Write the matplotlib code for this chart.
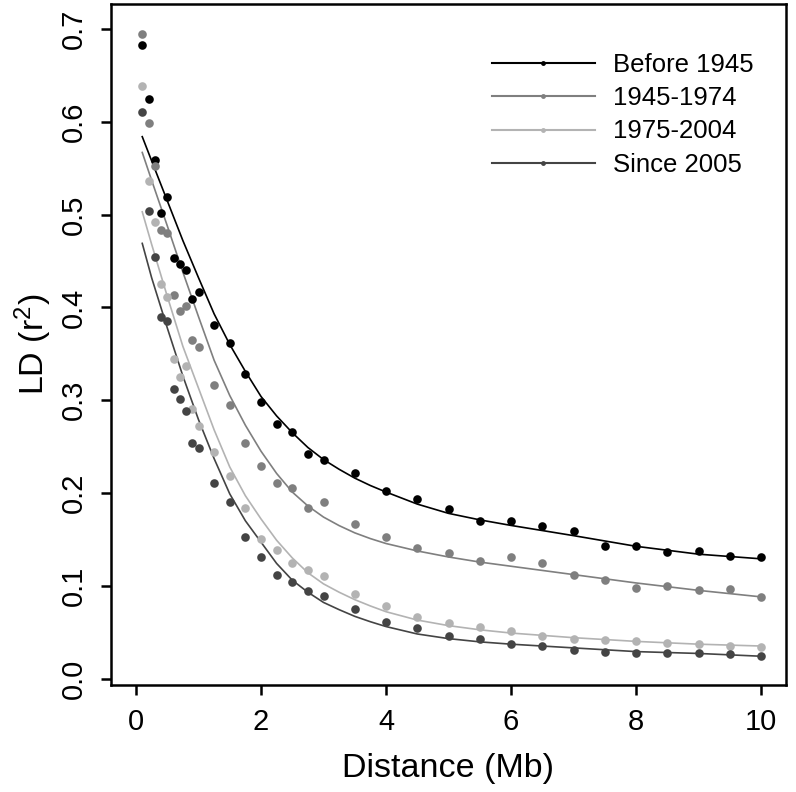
import matplotlib
matplotlib.use("Agg")
import matplotlib.pyplot as plt
from matplotlib.lines import Line2D

plt.rcParams['font.family'] = ['Liberation Sans', 'DejaVu Sans']
plt.rcParams['mathtext.default'] = 'regular'

# ---- data ----
groups = ["Before 1945", "1945-1974", "1975-2004", "Since 2005"]
colors = ["#000000", "#7f7f7f", "#b3b3b3", "#444444"]

distance = [0.1, 0.2, 0.3, 0.4, 0.5, 0.6, 0.7, 0.8, 0.9, 1.0,
            1.25, 1.5, 1.75, 2.0, 2.25, 2.5, 2.75, 3.0,
            3.5, 4.0, 4.5, 5.0, 5.5, 6.0, 6.5, 7.0, 7.5, 8.0, 8.5, 9.0, 9.5, 10.0]

ld_before1945 = [0.683, 0.625, 0.559, 0.502, 0.519, 0.453, 0.447, 0.440, 0.409, 0.417,
                 0.381, 0.362, 0.328, 0.298, 0.274, 0.266, 0.242, 0.236,
                 0.222, 0.202, 0.194, 0.183, 0.170, 0.170, 0.164, 0.159, 0.143, 0.143,
                 0.136, 0.137, 0.132, 0.131]
ld_1945_1974 = [0.695, 0.599, 0.552, 0.483, 0.480, 0.413, 0.396, 0.402, 0.365, 0.357,
                0.316, 0.295, 0.254, 0.229, 0.211, 0.205, 0.184, 0.190,
                0.167, 0.153, 0.141, 0.135, 0.127, 0.131, 0.124, 0.112, 0.106, 0.098,
                0.100, 0.095, 0.096, 0.088]
ld_1975_2004 = [0.639, 0.536, 0.492, 0.425, 0.411, 0.344, 0.325, 0.337, 0.291, 0.272,
                0.244, 0.218, 0.184, 0.150, 0.139, 0.125, 0.117, 0.111,
                0.091, 0.078, 0.066, 0.060, 0.055, 0.051, 0.046, 0.043, 0.041, 0.040,
                0.038, 0.037, 0.035, 0.034]
ld_since2005 = [0.611, 0.504, 0.454, 0.390, 0.385, 0.312, 0.301, 0.288, 0.254, 0.248,
                0.211, 0.190, 0.152, 0.131, 0.112, 0.104, 0.094, 0.089,
                0.075, 0.061, 0.054, 0.046, 0.043, 0.037, 0.035, 0.031, 0.029, 0.028,
                0.027, 0.028, 0.026, 0.024]

# fitted decay curves
fit_x = [0.1, 0.25, 0.5, 0.75, 1.0, 1.25, 1.5, 1.75, 2.0, 2.25, 2.5, 2.75, 3.0,
         3.25, 3.5, 3.75, 4.0, 4.5, 5.0, 5.5, 6.0, 7.0, 8.0, 9.0, 10.0]
fit_before1945 = [0.584, 0.558, 0.515, 0.472, 0.432, 0.393, 0.360, 0.331, 0.304, 0.283,
                  0.265, 0.249, 0.236, 0.2255, 0.216, 0.208, 0.201, 0.188, 0.178,
                  0.171, 0.165, 0.154, 0.1425, 0.134, 0.129]
fit_1945_1974 = [0.567, 0.537, 0.488, 0.438, 0.390, 0.343, 0.305, 0.273, 0.245, 0.221,
                 0.201, 0.186, 0.174, 0.1648, 0.157, 0.1508, 0.1455, 0.1375, 0.131,
                 0.1255, 0.121, 0.112, 0.103, 0.095, 0.088]
fit_1975_2004 = [0.503, 0.468, 0.412, 0.358, 0.313, 0.268, 0.228, 0.197, 0.172, 0.149,
                 0.130, 0.114, 0.102, 0.093, 0.085, 0.0782, 0.072, 0.063, 0.057,
                 0.0525, 0.049, 0.044, 0.040, 0.037, 0.035]
fit_since2005 = [0.469, 0.432, 0.378, 0.326, 0.279, 0.237, 0.199, 0.170, 0.147, 0.124,
                 0.106, 0.093, 0.082, 0.0742, 0.067, 0.0612, 0.056, 0.048, 0.043,
                 0.0395, 0.037, 0.033, 0.029, 0.027, 0.024]

x_ticks = [0, 2, 4, 6, 8, 10]
y_ticks = [0.0, 0.1, 0.2, 0.3, 0.4, 0.5, 0.6, 0.7]
y_tick_labels = ["0.0", "0.1", "0.2", "0.3", "0.4", "0.5", "0.6", "0.7"]

points = [ld_before1945, ld_1945_1974, ld_1975_2004, ld_since2005]
fits = [fit_before1945, fit_1945_1974, fit_1975_2004, fit_since2005]

# ---- figure ----
W, H = 796, 792
fig = plt.figure(figsize=(W / 100, H / 100), dpi=100)
L, R, T, B = 111, 786, 4, 685
ax = fig.add_axes([L / W, 1 - B / H, (R - L) / W, (B - T) / H])

for pts, fit, c in zip(points, fits, colors):
    ax.plot(distance, pts, 'o', color=c, markersize=6.2, markeredgewidth=0, zorder=3)
    ax.plot(fit_x, fit, '-', color=c, linewidth=1.2, zorder=2)

ax.set_xlim(-0.4, 10.4)
ax.set_ylim(-0.007, 0.727)
ax.set_xticks(x_ticks)
ax.set_xticklabels([str(t) for t in x_ticks])
ax.set_yticks(y_ticks)
ax.set_yticklabels(y_tick_labels, rotation=90, va='center')

for s in ax.spines.values():
    s.set_linewidth(1.8)
ax.tick_params(axis='both', direction='out', length=7.5, width=1.8,
               labelsize=21, color='black')
ax.tick_params(axis='x', pad=9)
ax.tick_params(axis='y', pad=9)

ax.set_xlabel("Distance (Mb)", fontsize=24.5, va='center')
ax.xaxis.set_label_coords(0.5, -(768 - B) / (B - T))
ax.set_ylabel("LD (r$^{2}$)", fontsize=24.5, va='center')
ax.yaxis.set_label_coords(-(L - 33) / (R - L), 0.5)

handles = [Line2D([0], [0], color=c, linewidth=1.5, marker='o', markersize=3.5,
                  markeredgewidth=0) for c in colors]
leg = ax.legend(handles, groups, loc='upper left',
                bbox_to_anchor=(492 / W, 1 - 53 / H), bbox_transform=fig.transFigure,
                frameon=False, fontsize=18.5, handlelength=4.0, handletextpad=0.7,
                labelspacing=0.36, borderpad=0, borderaxespad=0)

fig.savefig("out.png", dpi=100)
